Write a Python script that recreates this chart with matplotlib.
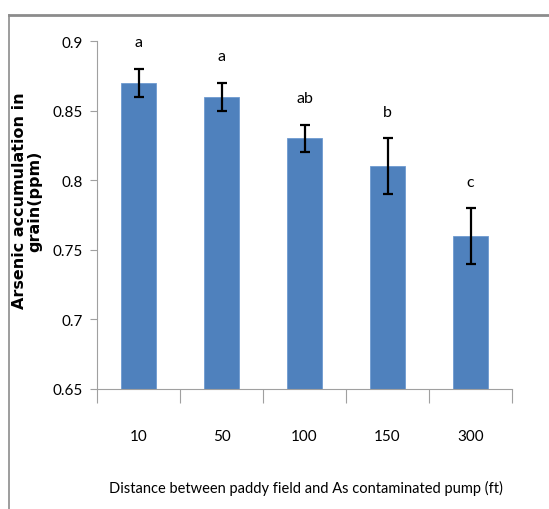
import matplotlib.pyplot as plt
from matplotlib.lines import Line2D

# Arsenic in grain vs distance from the contaminated pump
distances = ['10', '50', '100', '150', '300']
arsenic = [0.87, 0.86, 0.83, 0.81, 0.76]
errors = [0.01, 0.01, 0.01, 0.02, 0.02]
letters = ['a', 'a', 'ab', 'b', 'c']

narrow = ['Lato', 'DejaVu Sans']
fs = 11

fig = plt.figure(figsize=(5.49, 5.10), dpi=100)
ax = fig.add_axes([97/549, 1-390/510, (512-97)/549, (390-42)/510])

x = range(len(distances))
ax.bar(x, arsenic, width=0.41, color='#4F81BD', edgecolor='#6F9AD0', linewidth=0.6, zorder=2)
ax.errorbar(x, arsenic, yerr=errors, fmt='none', ecolor='black', elinewidth=1.6, capsize=3.5, capthick=1.6, zorder=3)
for i, (v, e, t) in enumerate(zip(arsenic, errors, letters)):
    ax.text(i, v + e + 0.019, t, ha='center', va='center', fontsize=fs + 0.5, family=narrow)

ax.set_ylim(0.65, 0.9)
ax.set_xlim(-0.5, len(distances) - 0.5)
ax.set_yticks([0.65, 0.7, 0.75, 0.8, 0.85, 0.9])
ax.set_yticklabels(['0.65', '0.7', '0.75', '0.8', '0.85', '0.9'], family=narrow, fontsize=fs)
ax.set_xticks(list(x))
ax.set_xticklabels(distances, family=narrow, fontsize=fs)
ax.tick_params(axis='x', length=0, pad=29)
# category separator ticks below the axis
ax.set_xticks([i - 0.5 for i in range(len(distances) + 1)], minor=True)
ax.tick_params(axis='x', which='minor', length=10, color='#A0A0A0', width=0.8)
ax.tick_params(axis='y', length=5, color='#A0A0A0', width=0.8, pad=5)

for s in ['top', 'right']:
    ax.spines[s].set_visible(False)
for s in ['left', 'bottom']:
    ax.spines[s].set_color('#A0A0A0')
    ax.spines[s].set_linewidth(0.8)

ax.set_xlabel('Distance between paddy field and As contaminated pump (ft)', family=narrow, fontsize=10.5)
ax.xaxis.set_label_coords((306-97)/415, -(488-390)/348)
ax.xaxis.label.set_va('center')
ax.set_ylabel('Arsenic accumulation in\ngrain(ppm)', fontsize=11.5, fontweight='bold', linespacing=1.0)
ax.yaxis.set_label_coords(-(97-27)/415, (390-201)/348)
ax.yaxis.label.set_va('center')

# outer grey frame (top and left edges visible)
fig.add_artist(Line2D([9/549, 1], [1-16/510, 1-16/510], color='#8C8C8C', linewidth=2, transform=fig.transFigure))
fig.add_artist(Line2D([9/549, 9/549], [0, 1-16/510], color='#8C8C8C', linewidth=1.2, transform=fig.transFigure))

fig.savefig('out.png', dpi=100)
